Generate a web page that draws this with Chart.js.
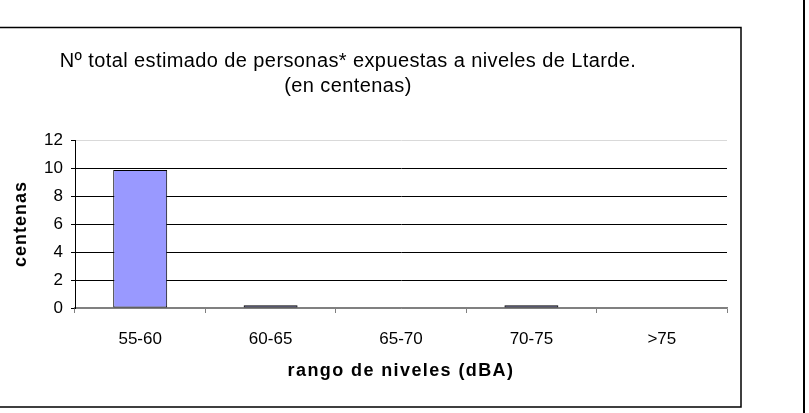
<!DOCTYPE html>
<html>
<head>
<meta charset="utf-8">
<script src="https://cdn.jsdelivr.net/npm/chart.js@4"></script>
<style>
html,body{margin:0;padding:0;background:#fff;}
canvas{display:block;}
</style>
</head>
<body>
<canvas id="c" width="809" height="413"></canvas>
<script>
const categories = ["55-60", "60-65", "65-70", "70-75", ">75"];
const personas = [9.85, 0.2, 0, 0.2, 0];
const yTicks = [0, 2, 4, 6, 8, 10, 12];
const titleLines = ["Nº total estimado de personas* expuestas a niveles de Ltarde.", "(en centenas)"];
const yTitle = "centenas";
const xTitle = "rango de niveles (dBA)";

const FONT = "'Liberation Sans', Arial, sans-serif";

const framePlugin = {
  id: 'frame',
  afterDraw(chart) {
    const ctx = chart.ctx;
    const a = chart.chartArea;
    ctx.save();
    // chart box
    ctx.strokeStyle = '#000';
    ctx.lineWidth = 1.5;
    ctx.beginPath();
    ctx.moveTo(0, 27.5);
    ctx.lineTo(741, 27.5);
    ctx.lineTo(741, 407);
    ctx.lineTo(0, 407);
    ctx.stroke();
    // right vertical line
    ctx.lineWidth = 2;
    ctx.beginPath();
    ctx.moveTo(804, 0);
    ctx.lineTo(804, 413);
    ctx.stroke();
    // chart title
    ctx.fillStyle = '#000';
    ctx.textAlign = 'center';
    ctx.textBaseline = 'middle';
    ctx.font = "20px " + FONT;
    ctx.letterSpacing = '0.4px';
    ctx.fillText(titleLines[0], 348, 61);
    ctx.fillText(titleLines[1], 348, 86);
    // axis titles
    ctx.font = "bold 18px " + FONT;
    ctx.letterSpacing = '1.4px';
    ctx.fillText(xTitle, (a.left + a.right) / 2, 371);
    ctx.letterSpacing = '1px';
    ctx.translate(21, (a.top + a.bottom) / 2);
    ctx.rotate(-Math.PI / 2);
    ctx.fillText(yTitle, 0, 0);
    ctx.restore();
  }
};

new Chart(document.getElementById('c'), {
  type: 'bar',
  data: {
    labels: categories,
    datasets: [{
      data: personas,
      backgroundColor: '#9999FF',
      borderColor: '#000',
      borderWidth: 1,
      borderSkipped: false,
      categoryPercentage: 1,
      barPercentage: 0.414
    }]
  },
  options: {
    responsive: false,
    animation: false,
    devicePixelRatio: 1,
    layout: { padding: { top: 140, right: 82, left: 0, bottom: 0 } },
    plugins: { legend: { display: false }, tooltip: { enabled: false } },
    scales: {
      x: {
        afterFit(s) { s.height = 105; },
        grid: { display: true, drawOnChartArea: false, drawTicks: true, tickLength: 5, color: '#808080', offset: true },
        border: { color: '#808080', width: 1.5 },
        ticks: { color: '#000', font: { family: FONT, size: 17 }, padding: 16, maxRotation: 0 },
        title: { display: false }
      },
      y: {
        min: 0, max: 12,
        afterFit(s) { s.width = 75; },
        afterBuildTicks(s) { s.ticks = yTicks.map(v => ({ value: v })); },
        grid: {
          color: (c) => c.tick && c.tick.value === 12 ? '#d9d9d9' : (c.tick && c.tick.value === 0 ? '#808080' : '#000'),
          tickColor: '#000',
          tickLength: 4,
          lineWidth: 1
        },
        border: { color: '#000', width: 1 },
        ticks: { color: '#000', font: { family: FONT, size: 17 }, padding: 8, stepSize: 2 },
        title: { display: false }
      }
    }
  },
  plugins: [framePlugin]
});
</script>
</body>
</html>
